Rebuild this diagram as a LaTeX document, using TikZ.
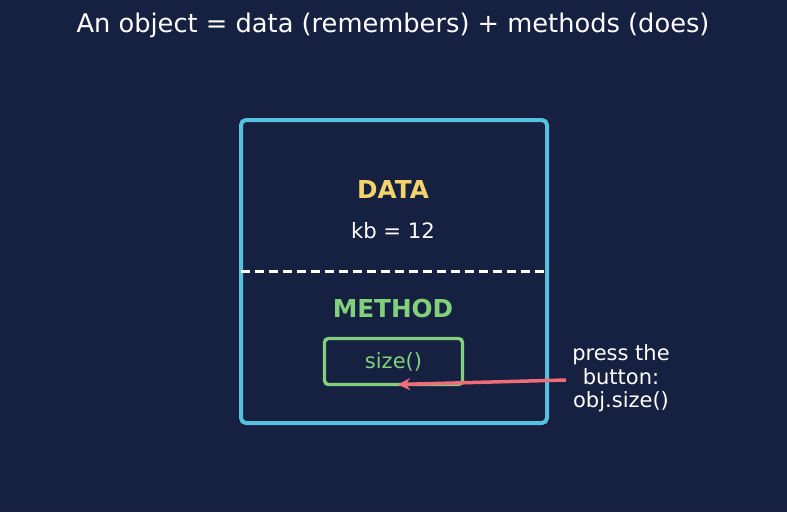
\documentclass[tikz,border=0pt]{standalone}
\usepackage{fontspec}
\setmainfont{DejaVu Sans}
\usetikzlibrary{arrows.meta}
\definecolor{bg}{HTML}{162040}
\definecolor{cyanb}{HTML}{56C1DD}
\definecolor{ydata}{HTML}{F5D36C}
\definecolor{gmeth}{HTML}{82D07C}
\definecolor{rarrow}{HTML}{F06C78}
\tikzset{
  txt/.style={inner sep=0pt, align=center},
  btn/.style={draw=gmeth, line width=3.4pt, rounded corners=4pt, minimum width=138pt, minimum height=46pt, inner sep=0pt, text=gmeth, font=\fontsize{21}{24}\selectfont},
}
\begin{document}
\begin{tikzpicture}[x=1pt,y=-1pt]
\fill[bg] (0,0) rectangle (787,512);
\useasboundingbox (0,0) rectangle (787,512);
\node[txt, text=white, font=\fontsize{25.7}{28}\selectfont] (title) at (393,25) {An object = data (remembers) + methods (does)};
\draw[cyanb, line width=4pt, rounded corners=5pt] (241,120) rectangle (547,423);
\coordinate (dl) at (241,271.5);
\coordinate (dr) at (547,271.5);
\draw[white, line width=3pt, dash pattern=on 9pt off 5pt] (dl) -- (dr);
\node[txt, text=ydata, font=\bfseries\fontsize{24.7}{26}\selectfont] (data) at (393,189) {DATA};
\node[txt, text=white, font=\fontsize{21.2}{24}\selectfont] (kb) at (393,231) {kb = 12};
\node[txt, text=gmeth, font=\bfseries\fontsize{24.7}{26}\selectfont] (meth) at (393,309) {METHOD};
\node[btn] (size) at (393.5,361.5) {size()};
\node[txt, text=white, font=\fontsize{21}{23.5}\selectfont] (press) at (621,378.5) {press the\\button:\\obj.size()};
\coordinate (astart) at (566,380);
\coordinate (aend) at (398,384.5);
\draw[rarrow, line width=3.5pt, -{Stealth[length=12pt,width=12pt]}] (astart) -- (aend);
\end{tikzpicture}
\end{document}
